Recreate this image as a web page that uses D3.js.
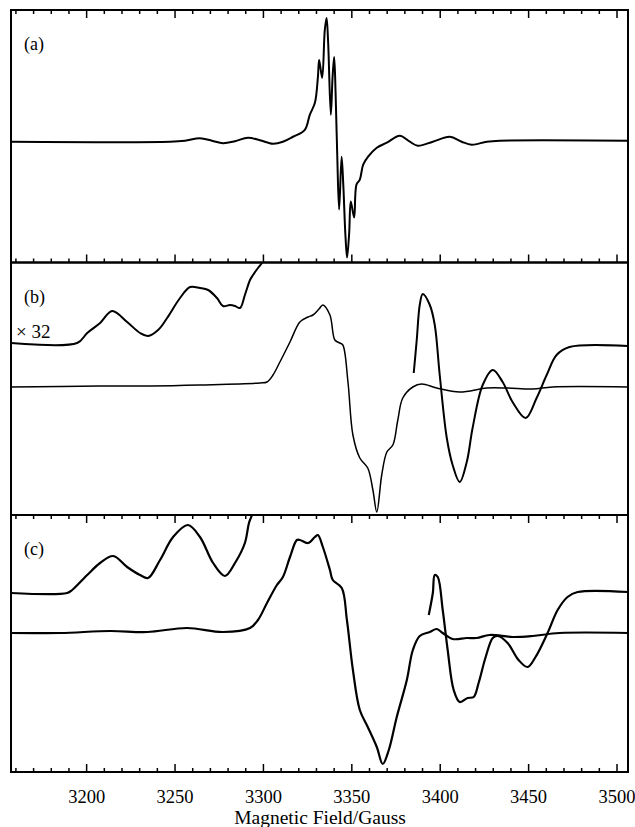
<!DOCTYPE html>
<html lang="en">

<head>
    <meta charset="UTF-8">
    <script src="https://cdn.jsdelivr.net/npm/d3@7"></script>
    <style>
        * {
            box-sizing: border-box;
        }

        body {
            margin: 0;
            background: white;
        }
    </style>
    <title>EPR spectra</title>
</head>

<body>
    <svg id="svg1" width="635" height="827"></svg>
    <script>
        // field in Gauss, signal in arbitrary units (0 = baseline)
        let fieldA = [3157.5, 3247.5, 3255.9, 3264.4, 3271.2, 3277.4, 3284.2, 3291.5, 3298.3, 3305.7, 3311.3, 3317.0, 3323.7, 3326.5, 3329.4, 3331.1, 3331.8, 3333.5, 3335.0, 3336.0, 3336.9, 3338.4, 3339.4, 3340.3, 3341.1, 3342.0, 3343.1, 3344.5, 3345.4, 3346.7, 3347.6, 3348.8, 3349.7, 3351.6, 3352.9, 3354.8, 3356.7, 3359.5, 3364.4, 3370.1, 3377.4, 3383.1, 3387.6, 3396.1, 3405.7, 3412.4, 3418.1, 3426.6, 3433.9, 3506.5];
        let signalA = [0, 0, 1, 3.5, 1, -1.5, 0.5, 4, 1.5, -2, 0, 5, 12, 27, 39, 65, 82, 64, 112, 124, 99, 27, 65, 85, 49, -11, -68, -15, -41, -95, -116, -91, -60, -76, -43, -38, -23, -15, -6, -1, 6, 0, -4, 0, 5, 0, -3, 0, 1, 1];

        let fieldB = [3157.5, 3207.9, 3236.2, 3264.4, 3298.3, 3302.3, 3305.7, 3309.6, 3315.3, 3320.9, 3325.5, 3328.3, 3331.7, 3333.9, 3337.9, 3340.7, 3343.5, 3345.2, 3348.1, 3350.9, 3354.8, 3359.3, 3362.2, 3364.4, 3367.2, 3370.1, 3373.5, 3376.3, 3379.1, 3384.8, 3389.8, 3398.3, 3411.3, 3426.6, 3437.9, 3452.6, 3463.8, 3506.5];
        let signalB = [0, 1, 1, 2, 4, 5, 12, 25, 45, 65, 70, 72, 78, 82, 72, 47, 44, 42, 5, -48, -71, -81, -103, -125, -88, -65, -58, -33, -11, 0, 3, -1, -5, -1, -1, -2, 0, 0];

        // x 32 trace, drawn in two pieces
        let fieldB32Left = [3157.5, 3194.9, 3200.6, 3207.9, 3214.7, 3223.2, 3230.5, 3235.0, 3240.7, 3245.8, 3253.1, 3258.8, 3264.4, 3269.0, 3274.0, 3277.4, 3281.4, 3284.2, 3287.0, 3289.8, 3292.7, 3294.4, 3297.2, 3299.4, 3300.5];
        let signalB32Left = [44, 44, 54, 64, 76, 65, 54, 51, 57, 69, 89, 100, 99, 97, 89, 81, 82, 81, 79, 92, 107, 112, 119, 124, 128];
        let fieldB32Right = [3385.3, 3387.0, 3388.7, 3390.4, 3394.4, 3397.2, 3400.0, 3404.0, 3407.3, 3411.3, 3415.3, 3418.6, 3424.3, 3430.0, 3435.6, 3441.2, 3448.6, 3454.8, 3460.5, 3466.1, 3473.4, 3506.5];
        let signalB32Right = [14, 47, 82, 93, 82, 62, 12, -51, -78, -95, -75, -41, 2, 17, 5, -15, -31, -11, 12, 32, 40, 41];

        let fieldC = [3157.5, 3185.3, 3213.6, 3234.5, 3257.1, 3277.4, 3292.7, 3297.2, 3302.3, 3307.9, 3311.3, 3315.3, 3319.2, 3320.9, 3325.5, 3329.4, 3331.1, 3333.9, 3337.9, 3339.5, 3344.6, 3347.5, 3350.9, 3354.8, 3359.3, 3364.4, 3367.8, 3371.2, 3375.7, 3381.4, 3384.8, 3388.7, 3394.4, 3398.3, 3401.7, 3407.3, 3415.3, 3420.9, 3428.2, 3441.2, 3452.6, 3467.8, 3506.5];
        let signalC = [0, 0, 2, 1, 5, 1, 5, 13, 30, 48, 56, 76, 93, 93, 90, 96, 98, 86, 63, 53, 45, 13, -37, -77, -94, -114, -131, -117, -84, -47, -17, -3, 1, 4, 0, -6, -5, -5, -2, -4, -3, 0, 0];

        let fieldC2Left = [3157.5, 3189.3, 3192.1, 3200.6, 3207.9, 3215.3, 3223.2, 3230.5, 3235.0, 3241.8, 3249.2, 3257.6, 3264.4, 3271.8, 3278.5, 3284.2, 3289.8, 3292.1, 3293.8, 3294.5];
        let signalC2Left = [40, 40, 43, 58, 70, 77, 66, 58, 55, 73, 96, 108, 96, 70, 57, 70, 90, 110, 118, 124];
        let fieldC2Right = [3393.8, 3396.1, 3397.2, 3398.9, 3401.7, 3404.5, 3407.9, 3411.3, 3415.8, 3419.2, 3422.0, 3426.0, 3430.0, 3432.8, 3438.4, 3444.6, 3449.7, 3454.2, 3461.0, 3466.7, 3472.3, 3478.0, 3506.5];
        let signalC2Right = [18, 40, 58, 56, 23, -17, -57, -69, -65, -64, -50, -24, -5, -3, -10, -27, -34, -24, 0, 23, 36, 41, 41];

        let majorTicks = [3200, 3250, 3300, 3350, 3400, 3450, 3500];
        let minorTicks = d3.range(3160, 3510, 10).filter(d => d % 50 != 0);
        let panelLabels = ["(a)", "(b)", "(c)"];

        let serif = "'Liberation Serif', 'DejaVu Serif', serif";
        let svgElement = d3.select("#svg1");

        let x = d3.scaleLinear()
            .domain([3157.5, 3506.5])
            .range([11, 628]);

        // panel layout
        let panels = [
            { top: 10, bottom: 262.5, lo: -121, hi: 132 },
            { top: 262.5, bottom: 515, lo: -128, hi: 124.5 },
            { top: 515, bottom: 772, lo: -139, hi: 118 }
        ];

        panels.forEach((p, i) => {
            p.y = d3.scaleLinear().domain([p.lo, p.hi]).range([p.bottom, p.top]);
            svgElement.append("clipPath")
                .attr("id", "clip" + i)
                .append("rect")
                .attr("x", x.range()[0])
                .attr("y", p.top)
                .attr("width", x.range()[1] - x.range()[0])
                .attr("height", p.bottom - p.top);
        });

        function drawTrace(panelIndex, fields, signals, width) {
            let p = panels[panelIndex];
            let line = d3.line()
                .x(d => x(d[0]))
                .y(d => p.y(d[1]))
                .curve(d3.curveCatmullRom.alpha(0.5));
            svgElement.append("path")
                .attr("clip-path", "url(#clip" + panelIndex + ")")
                .attr("d", line(d3.zip(fields, signals)))
                .attr("fill", "none")
                .attr("stroke", "black")
                .attr("stroke-width", width)
                .attr("stroke-linejoin", "round");
        }

        drawTrace(0, fieldA, signalA, 2);
        drawTrace(1, fieldB, signalB, 1.5);
        drawTrace(1, fieldB32Left, signalB32Left, 2);
        drawTrace(1, fieldB32Right, signalB32Right, 2);
        drawTrace(2, fieldC, signalC, 2.2);
        drawTrace(2, fieldC2Left, signalC2Left, 2.2);
        drawTrace(2, fieldC2Right, signalC2Right, 2.2);

        // frames
        panels.forEach(p => {
            svgElement.append("rect")
                .attr("x", x.range()[0])
                .attr("y", p.top)
                .attr("width", x.range()[1] - x.range()[0])
                .attr("height", p.bottom - p.top)
                .attr("fill", "none")
                .attr("stroke", "black")
                .attr("stroke-width", 2);
        });

        // inward ticks on top and bottom of (a) and (c)
        function addTicks(yPos, pointDown, withLabels) {
            let makeAxis = pointDown ? d3.axisTop : d3.axisBottom;
            let major = makeAxis(x)
                .tickValues(majorTicks)
                .tickSize(-8)
                .tickPadding(18)
                .tickFormat(withLabels ? d3.format("d") : "");
            let minor = makeAxis(x)
                .tickValues(minorTicks)
                .tickSize(-4)
                .tickFormat("");
            [major, minor].forEach(ax => {
                let g = svgElement.append("g")
                    .attr("transform", "translate(0," + yPos + ")")
                    .call(ax)
                    .attr("font-family", serif)
                    .attr("font-size", 18.5);
                g.select(".domain").remove();
                g.selectAll("line").attr("stroke-width", 1.5);
            });
        }

        addTicks(panels[0].top, true, false);
        addTicks(panels[0].bottom, false, false);
        addTicks(panels[2].top, true, false);
        addTicks(panels[2].bottom, false, true);

        // panel labels
        panels.forEach((p, i) => {
            svgElement.append("text")
                .attr("x", 24)
                .attr("y", p.top + 40)
                .attr("font-family", serif)
                .attr("font-size", 18)
                .text(panelLabels[i]);
        });

        svgElement.append("text")
            .attr("x", 16)
            .attr("y", panels[1].top + 75)
            .attr("font-family", serif)
            .attr("font-size", 19)
            .text("\u00d7 32");

        svgElement.append("text")
            .attr("x", 320)
            .attr("y", 824)
            .attr("text-anchor", "middle")
            .attr("font-family", serif)
            .attr("font-size", 19.5)
            .text("Magnetic Field/Gauss");
    </script>
</body>

</html>
